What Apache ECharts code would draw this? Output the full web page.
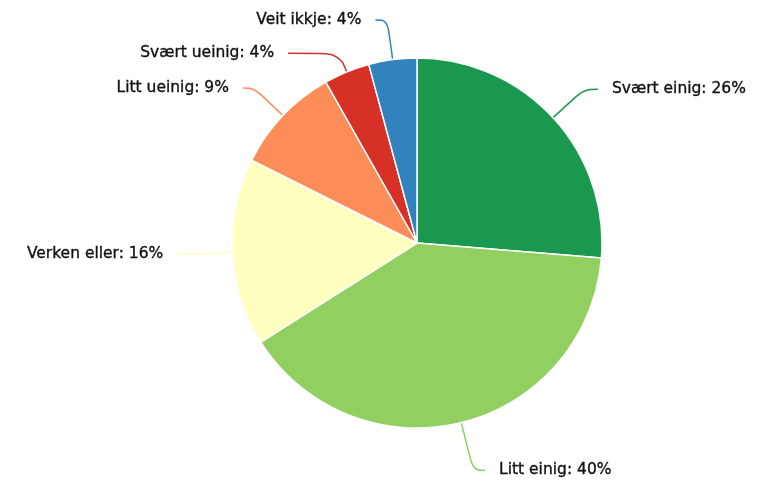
<!DOCTYPE html>
<html>
<head>
<meta charset="utf-8">
<script src="https://cdn.jsdelivr.net/npm/echarts@6/dist/echarts.min.js"></script>
<style>html,body{margin:0;padding:0;background:#fff;}#c{width:777px;height:482px;}</style>
</head>
<body>
<div id="c"></div>
<script>
const categories = ['Svært einig', 'Litt einig', 'Verken eller', 'Litt ueinig', 'Svært ueinig', 'Veit ikkje'];
const values = [26.3, 39.7, 16.4, 9.4, 4.0, 4.2];
const colors = ['#1a9850', '#91cf60', '#ffffbf', '#fc8d59', '#d73027', '#3182bd'];
// connector lengths per slice [radial, horizontal]
const lineLengths = [[42, 14], [49, 12], [40, 15], [40, 11], [20, 51], [40, 12]];

const chart = echarts.init(document.getElementById('c'));
chart.setOption({
  animation: false,
  color: colors,
  series: [{
    type: 'pie',
    center: [417, 243],
    radius: [0, 185],
    startAngle: 90,
    clockwise: true,
    data: categories.map((c, i) => ({
      name: c,
      value: values[i],
      labelLine: { length: lineLengths[i][0], length2: lineLengths[i][1] }
    })),
    itemStyle: { borderColor: '#fff', borderWidth: 1.5 },
    label: {
      show: true,
      fontFamily: 'DejaVu Sans',
      fontSize: 15.5,
      color: '#111',
      textBorderColor: '#111',
      textBorderWidth: 0.35,
      distanceToLabelLine: 14,
      formatter: p => p.name + ': ' + Math.round(p.percent) + '%'
    },
    labelLine: { show: true, smooth: 0.4, length: 40, length2: 12, lineStyle: { width: 1.5 } }
  }]
});
</script>
</body>
</html>
